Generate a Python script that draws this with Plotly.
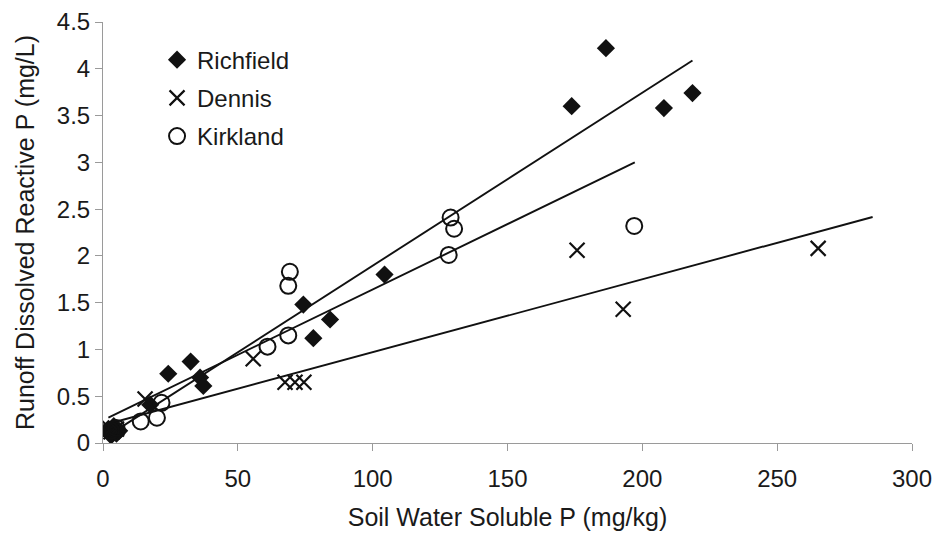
import plotly.graph_objects as go

# Soil water soluble P (mg/kg) vs runoff dissolved reactive P (mg/L)
richfield_x = [2, 3, 4, 5, 6, 17.5, 24.2, 32.5, 36, 37.2, 74.3, 78, 84.2, 104.4,
               173.8, 186.5, 208, 218.6]
richfield_y = [0.15, 0.08, 0.18, 0.10, 0.13, 0.41, 0.74, 0.87, 0.70, 0.61, 1.48,
               1.12, 1.32, 1.80, 3.60, 4.22, 3.58, 3.74]

dennis_x = [2, 3, 5, 15.6, 55.7, 67.5, 71.2, 74.5, 175.8, 192.9, 265.2]
dennis_y = [0.17, 0.12, 0.15, 0.47, 0.90, 0.65, 0.65, 0.65, 2.06, 1.43, 2.08]

kirkland_x = [3, 5, 14, 20, 21.7, 61, 68.7, 68.7, 69.3, 128.2, 128.9, 130.2, 197]
kirkland_y = [0.13, 0.16, 0.23, 0.27, 0.43, 1.03, 1.15, 1.68, 1.83, 2.01, 2.41,
              2.29, 2.32]

# Linear trend lines: slope, intercept and x extent for each soil
trend_slope = {"Richfield": 0.0185, "Dennis": 0.0078, "Kirkland": 0.01397}
trend_intercept = {"Richfield": 0.045, "Dennis": 0.19, "Kirkland": 0.244}
trend_x_range = {"Richfield": [2, 218.6], "Dennis": [2, 285.4], "Kirkland": [2, 197.2]}

x_ticks = [0, 50, 100, 150, 200, 250, 300]
y_ticks = [0, 0.5, 1, 1.5, 2, 2.5, 3, 3.5, 4, 4.5]
y_tick_text = ["0", "0.5", "1", "1.5", "2", "2.5", "3", "3.5", "4", "4.5"]

FONT = "Liberation Sans, Arial, sans-serif"
INK = "#111111"
TEXT = "#1a1a1a"
AXIS = "#9a9a9a"

fig = go.Figure()

for name in ["Richfield", "Dennis", "Kirkland"]:
    xs = trend_x_range[name]
    ys = [trend_intercept[name] + trend_slope[name] * v for v in xs]
    fig.add_trace(go.Scatter(x=xs, y=ys, mode="lines", showlegend=False,
                             line=dict(color=INK, width=1.9), hoverinfo="skip"))

fig.add_trace(go.Scatter(
    x=richfield_x, y=richfield_y, mode="markers", name="Richfield",
    legendgroup="r",
    marker=dict(symbol="diamond", size=14, color=INK, line=dict(width=0))))
fig.add_trace(go.Scatter(
    x=dennis_x, y=dennis_y, mode="markers", name="Dennis",
    legendgroup="d",
    marker=dict(symbol="x-thin-open", size=15, color=INK,
                line=dict(width=2.2, color=INK))))
fig.add_trace(go.Scatter(
    x=kirkland_x, y=kirkland_y, mode="markers", name="Kirkland",
    legendgroup="k",
    marker=dict(symbol="circle-open", size=16, color=INK,
                line=dict(width=2, color=INK))))

fig.update_layout(
    width=935, height=540,
    margin=dict(l=103, r=23, t=22, b=97, autoexpand=False),
    paper_bgcolor="white", plot_bgcolor="white",
    font=dict(family=FONT, color=TEXT, size=24),
    showlegend=True,
    legend=dict(x=0.0668, y=0.963, xanchor="left", yanchor="top",
                bgcolor="rgba(0,0,0,0)", font=dict(size=24, color=TEXT),
                traceorder="grouped", tracegroupgap=4, itemwidth=30),
    xaxis=dict(range=[0, 300], tickvals=x_ticks, showgrid=False, zeroline=False,
               showline=True, linecolor=AXIS, linewidth=1, automargin=False,
               ticks="outside", ticklen=7, tickcolor=AXIS,
               ticklabelstandoff=7,
               tickfont=dict(size=24, color=TEXT),
               title=dict(text="Soil Water Soluble P (mg/kg)",
                          font=dict(size=25, color=TEXT), standoff=17)),
    yaxis=dict(range=[0, 4.5], tickvals=y_ticks, ticktext=y_tick_text,
               showgrid=False, zeroline=False,
               showline=True, linecolor=AXIS, linewidth=1, automargin=False,
               ticks="outside", ticklen=7, tickcolor=AXIS,
               tickfont=dict(size=24, color=TEXT),
               title=dict(text="Runoff Dissolved Reactive P (mg/L)",
                          font=dict(size=25, color=TEXT), standoff=15)),
)

fig.write_html("out.html")
